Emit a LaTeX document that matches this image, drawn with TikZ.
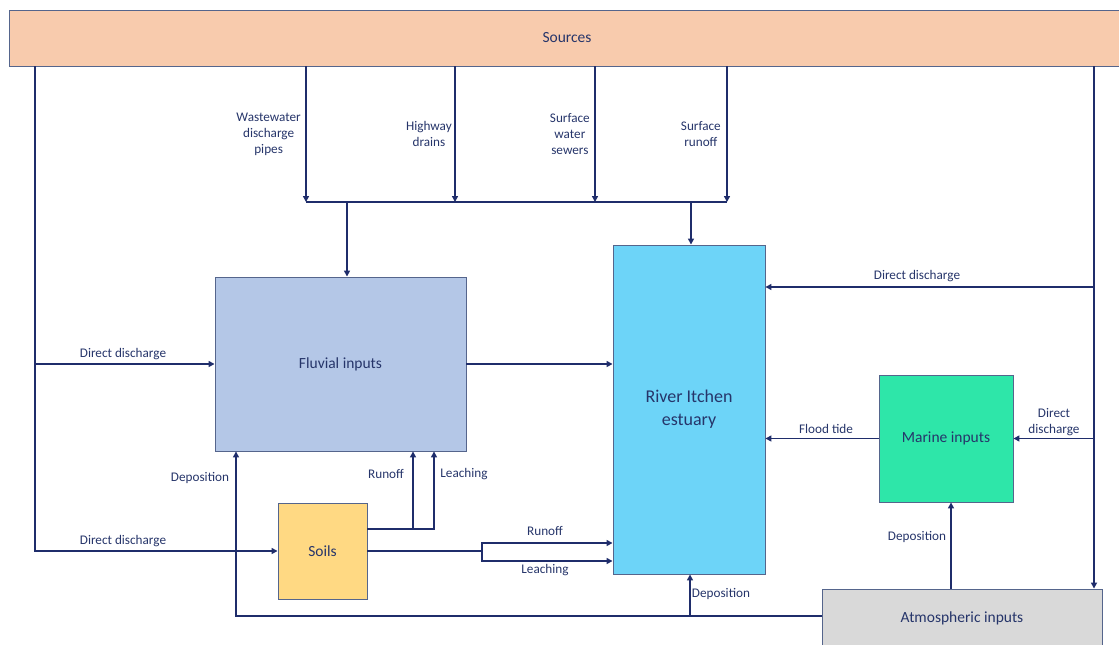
\documentclass[tikz,border=0pt]{standalone}
\usepackage{fontspec}
\setmainfont{Carlito}
\usetikzlibrary{arrows.meta}
\definecolor{navy}{HTML}{1F2D6B}
\definecolor{txt}{HTML}{26356A}
\definecolor{edge}{HTML}{55658C}
\definecolor{srcfill}{HTML}{F8CBAD}
\definecolor{fluvfill}{HTML}{B4C7E7}
\definecolor{riverfill}{HTML}{6DD4F8}
\definecolor{marinefill}{HTML}{2EE6A9}
\definecolor{soilfill}{HTML}{FFD983}
\definecolor{atmfill}{HTML}{D9D9D9}
\tikzset{
  boxnode/.style={draw=edge, line width=0.9pt, rectangle, inner sep=0pt, text=txt, align=center, font=\fontsize{15.5}{19}\selectfont},
  flow/.style={draw=navy, line width=1.8pt},
  arr/.style={flow, -{Triangle[length=6pt,width=6pt]}},
  lbl/.style={text=txt, inner sep=0pt, align=center, font=\fontsize{13.2}{16}\selectfont},
}
\begin{document}
\begin{tikzpicture}[x=1pt,y=-1pt]
\useasboundingbox (0,0) rectangle (1119,645);
\clip (0,0) rectangle (1119,645);
% boxes
\node[boxnode, fill=srcfill, minimum width=1120pt, minimum height=56pt] (sources) at (569,38) {};
\node[text=txt, font=\fontsize{15.5}{19}\selectfont] (srctext) at (567,38) {Sources};
\node[boxnode, fill=fluvfill, minimum width=251pt, minimum height=174pt] (fluvial) at (340.5,364) {Fluvial inputs};
\node[boxnode, fill=riverfill, minimum width=152pt, minimum height=329pt, font=\fontsize{18}{23}\selectfont] (river) at (689,409.5) {River Itchen\\estuary};
\node[boxnode, fill=marinefill, minimum width=134pt, minimum height=127pt] (marine) at (946,438.5) {Marine inputs};
\node[boxnode, fill=soilfill, minimum width=89pt, minimum height=96pt] (soils) at (322.5,551) {Soils};
\node[boxnode, fill=atmfill, minimum width=280pt, minimum height=62pt] (atm) at (962,620) {};
\node[text=txt, font=\fontsize{15.5}{19}\selectfont] (atmtext) at (962,618) {Atmospheric inputs};
% helper coordinates
\coordinate (L) at (35,0);
\coordinate (R) at (1094,0);
\coordinate (W1) at (306,0);
\coordinate (W2) at (455,0);
\coordinate (W3) at (595,0);
\coordinate (W4) at (727,0);
\coordinate (B) at (0,202);
\coordinate (BF) at (347,0);
\coordinate (BR) at (691,0);
\coordinate (DD) at (0,287);
\coordinate (BL) at (0,616);
\coordinate (DL) at (236,0);
\coordinate (DR) at (690,0);
\coordinate (DM) at (951,0);
\coordinate (SY) at (0,529);
\coordinate (SR) at (413,0);
\coordinate (SL) at (434,0);
\coordinate (SP) at (482,551);
\coordinate (RU) at (0,543);
\coordinate (LE) at (0,561);
% left source line
\draw[arr] (sources.south -| L) |- (soils.west);
\draw[arr] (L |- fluvial.west) -- (fluvial.west);
% pipes to bus
\draw[arr] (sources.south -| W1) -- (W1 |- B);
\draw[arr] (sources.south -| W2) -- (W2 |- B);
\draw[arr] (sources.south -| W3) -- (W3 |- B);
\draw[arr] (sources.south -| W4) -- (W4 |- B);
\draw[flow] (W1 |- B) -- (W4 |- B);
\draw[arr] (BF |- B) -- (fluvial.north -| BF);
\draw[arr] (BR |- B) -- (river.north -| BR);
% right source line
\draw[arr] (sources.south -| R) -- (atm.north -| R);
\draw[arr] (R |- DD) -- (river.east |- DD);
\draw[arr] (R |- marine.east) -- (marine.east);
% marine to river
\draw[arr] (marine.west) -- (river.east |- marine.west);
% fluvial to river
\draw[arr] (fluvial.east) -- (river.west |- fluvial.east);
% atmospheric deposition
\draw[arr] (atm.north -| DM) -- (marine.south -| DM);
\draw[arr] (atm.west |- BL) -| (fluvial.south -| DL);
\draw[arr] (DR |- BL) -- (river.south -| DR);
% soils
\draw[arr] (soils.east |- SY) -| (fluvial.south -| SL);
\draw[arr] (SR |- SY) -- (fluvial.south -| SR);
\draw[flow] (soils.east) -- (SP);
\draw[arr] (SP) |- (river.west |- RU);
\draw[arr] (SP) |- (river.west |- LE);
% labels
\node[lbl, anchor=east] (lww) at (301,134) {Wastewater\\discharge\\pipes};
\node[lbl, anchor=east] (lhw) at (452,134) {Highway\\drains};
\node[lbl, anchor=east] (lsw) at (590,134) {Surface\\water\\sewers};
\node[lbl, anchor=east] (lsr) at (721,134) {Surface\\runoff};
\node[lbl] (ldd1) at (123,354) {Direct discharge};
\node[lbl] (ldd2) at (123,541) {Direct discharge};
\node[lbl] (ldd3) at (917,276) {Direct discharge};
\node[lbl] (ldd4) at (1054,422) {Direct\\discharge};
\node[lbl] (lft) at (826,429) {Flood tide};
\node[lbl] (ldep1) at (200,478) {Deposition};
\node[lbl] (ldep2) at (721,594) {Deposition};
\node[lbl] (ldep3) at (917,537) {Deposition};
\node[lbl] (lro1) at (386,474) {Runoff};
\node[lbl] (lle1) at (464,474) {Leaching};
\node[lbl] (lro2) at (545,531) {Runoff};
\node[lbl] (lle2) at (545,570) {Leaching};
\end{tikzpicture}
\end{document}
